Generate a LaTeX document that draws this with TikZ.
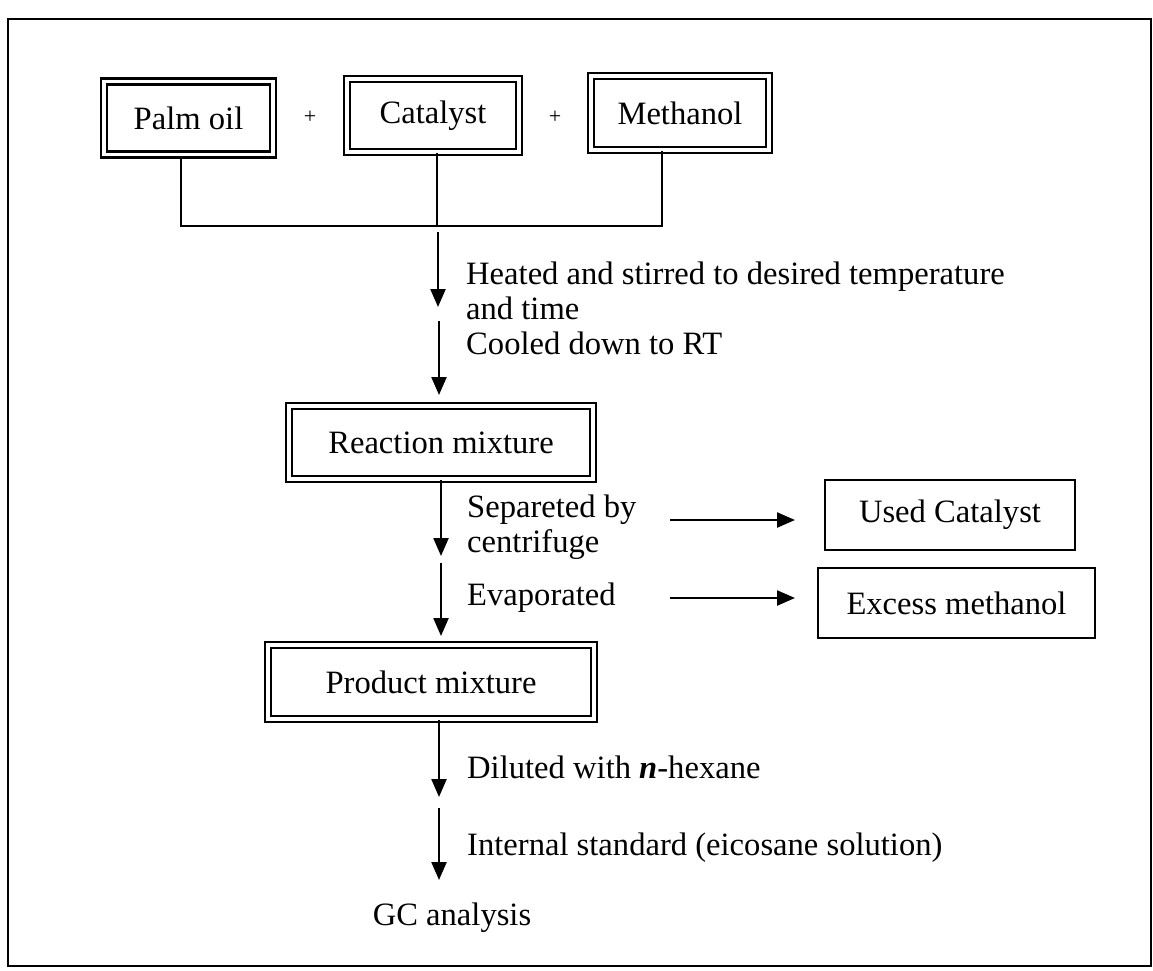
\documentclass[tikz,border=0pt]{standalone}
\usepackage{fontspec}
\setmainfont{Liberation Serif}
\usetikzlibrary{arrows.meta}
\newcommand\dgfont{\fontsize{32.6}{35}\selectfont}
\newcommand\dgplus{\fontsize{22}{24}\selectfont}
\tikzset{
  dbox/.style={draw, line width=2.5pt, double, double distance=3.4pt, inner sep=0pt, font=\dgfont, fill=white},
  sbox/.style={draw, line width=1.8pt, inner sep=0pt, font=\dgfont},
  conn/.style={line width=2.3pt},
  arr/.style={line width=2.3pt, -{Triangle[length=18pt,width=15pt]}},
  lbl/.style={anchor=west, align=left, inner sep=0pt, font=\dgfont},
  frame/.style={line width=2.6pt}
}
\begin{document}
\begin{tikzpicture}[x=1pt,y=-1pt]
\useasboundingbox (0,0) rectangle (1153,971);
\fill[white] (0,0) rectangle (1153,971);
\draw[frame] (8,19) rectangle (1151,966);

% top boxes
\node[dbox, minimum width=169pt, minimum height=73pt] (palm) at (188.5,118) {Palm oil};
\node[dbox, minimum width=172pt, minimum height=73pt] (cat) at (433,115.5) {Catalyst};
\node[dbox, minimum width=178pt, minimum height=74pt] (meth) at (680,113) {Methanol};
\node[font=\dgplus, inner sep=0pt] (p1) at (310,117) {+};
\node[font=\dgplus, inner sep=0pt] (p2) at (555,117) {+};

% junction
\coordinate (j) at (437,226);
\draw[conn] ([xshift=-7.5pt]palm.south) |- (j);
\draw[conn] (cat.south -| j) -- (j);
\draw[conn] ([xshift=-18pt]meth.south) |- (j);

% main column boxes
\node[dbox, minimum width=304pt, minimum height=73pt] (react) at (441,442.5) {Reaction mixture};
\node[dbox, minimum width=326pt, minimum height=74pt] (prod) at (431,682) {Product mixture};
\node[sbox, minimum width=250pt, minimum height=70pt] (used) at (950,515) {Used Catalyst};
\node[sbox, minimum width=277pt, minimum height=70pt] (excess) at (956.5,603) {Excess methanol};
\node[inner sep=0pt, font=\dgfont] (gc) at (452,918) {GC analysis};

% arrows
\coordinate (a1s) at (438,232);
\coordinate (a1e) at (438,307);
\coordinate (a2s) at (439,321);
\coordinate (a2e) at (439,395);
\draw[arr] (a1s) -- (a1e);
\draw[arr] (a2s) -- (a2e);

\coordinate (a3e) at (441,556);
\coordinate (a4s) at (441,563);
\coordinate (a4e) at (441,636);
\draw[arr] (react.south -| a3e) -- (a3e);
\draw[arr] (a4s) -- (a4e);

\coordinate (a5e) at (439,797);
\coordinate (a6s) at (439,808);
\coordinate (a6e) at (439,880);
\draw[arr] (prod.south -| a5e) -- (a5e);
\draw[arr] (a6s) -- (a6e);

\coordinate (h1s) at (670,520);
\coordinate (h1e) at (795,520);
\coordinate (h2s) at (670,598);
\coordinate (h2e) at (795,598);
\draw[arr] (h1s) -- (h1e);
\draw[arr] (h2s) -- (h2e);

% labels
\node[lbl] (heat) at (466,308) {Heated and stirred to desired temperature\\and time\\Cooled down to RT};
\node[lbl] (sep) at (467,527.5) {Separeted by\\centrifuge};
\node[lbl] (evap) at (467,598) {Evaporated};
\node[lbl] (dil) at (467,767) {Diluted with \textbf{\textit{n}}-hexane};
\node[lbl] (int) at (467,848) {Internal standard (eicosane solution)};
\end{tikzpicture}
\end{document}
